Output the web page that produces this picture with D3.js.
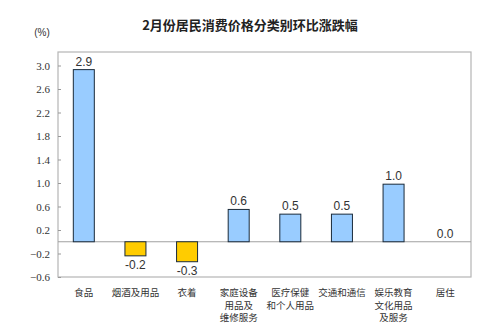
<!DOCTYPE html>
<html><head><meta charset="utf-8">
<script src="https://cdn.jsdelivr.net/npm/d3@7"></script>
<style>body{margin:0;background:#fff}svg{display:block}</style>
</head><body>
<svg id="c" width="500" height="333"></svg>
<script>
const categories = [["食品"],["烟酒及用品"],["衣着"],["家庭设备","用品及","维修服务"],["医疗保健","和个人用品"],["交通和通信"],["娱乐教育","文化用品","及服务"],["居住"]];
const values = [2.93, -0.24, -0.34, 0.55, 0.47, 0.47, 0.98, 0.0];
const valueLabels = ["2.9","-0.2","-0.3","0.6","0.5","0.5","1.0","0.0"];
const yTicks = [-0.6,-0.2,0.2,0.6,1.0,1.4,1.8,2.2,2.6,3.0];
const title = "2月份居民消费价格分类别环比涨跌幅";
const unit = "(%)";

const svg = d3.select("#c");
const font = "'Noto Sans CJK SC','Liberation Sans',sans-serif";
const L=58, R=471, T=52, B=277;
const x = d3.scaleBand().domain(d3.range(categories.length)).range([L,R]);
const y = d3.scaleLinear().domain([-0.6,3.23]).range([B,T]);

svg.append("text").attr("x",250).attr("y",30).attr("text-anchor","middle")
  .attr("font-family",font).attr("font-size",13).attr("font-weight","bold").attr("fill","#222").text(title);
svg.append("text").attr("x",42).attr("y",36).attr("text-anchor","middle")
  .attr("font-family","'Liberation Sans',sans-serif").attr("font-size",10).attr("fill","#333").text(unit);

svg.append("rect").attr("x",L).attr("y",T).attr("width",R-L).attr("height",B-T)
  .attr("fill","none").attr("stroke","#b5b5b5").attr("stroke-width",1.2);

const ax = svg.append("g").attr("transform",`translate(${L},0)`)
  .call(d3.axisLeft(y).tickValues(yTicks).tickFormat(d3.format(".1f")).tickSize(0).tickPadding(8));
ax.select(".domain").remove();
ax.selectAll("text").attr("font-family","'Liberation Serif',serif").attr("font-size",11).attr("fill","#333");
ax.selectAll(".tick").append("line").attr("x1",0).attr("x2",3).attr("stroke","#999");

svg.append("line").attr("x1",L).attr("x2",R).attr("y1",y(0)).attr("y2",y(0)).attr("stroke","#a0a0a0").attr("stroke-width",1.2);

const bw = 21;
const g = svg.append("g");
values.forEach((v,i)=>{
  const cx = x(i)+x.bandwidth()/2;
  if (v !== 0) {
    g.append("rect").attr("x",cx-bw/2).attr("width",bw)
      .attr("y",y(Math.max(v,0))).attr("height",Math.abs(y(v)-y(0)))
      .attr("fill", v>0 ? "#99ccff" : "#ffcc00").attr("stroke","#1a2a3a").attr("stroke-width",1);
  }
  g.append("text").attr("x",cx).attr("y", v>=0 ? y(v)-4 : y(v)+13)
    .attr("text-anchor","middle").attr("font-family","'Liberation Sans',sans-serif")
    .attr("font-size",12).attr("fill","#333").text(valueLabels[i]);
  const t = g.append("text").attr("x",cx).attr("y",296).attr("text-anchor","middle")
      .attr("font-family",font).attr("font-size",9.5).attr("fill","#333");
  categories[i].forEach((s,j)=>{
    t.append("tspan").attr("x",cx).attr("dy", j===0 ? 0 : 12.5).text(s);
  });
});
</script>
</body></html>
